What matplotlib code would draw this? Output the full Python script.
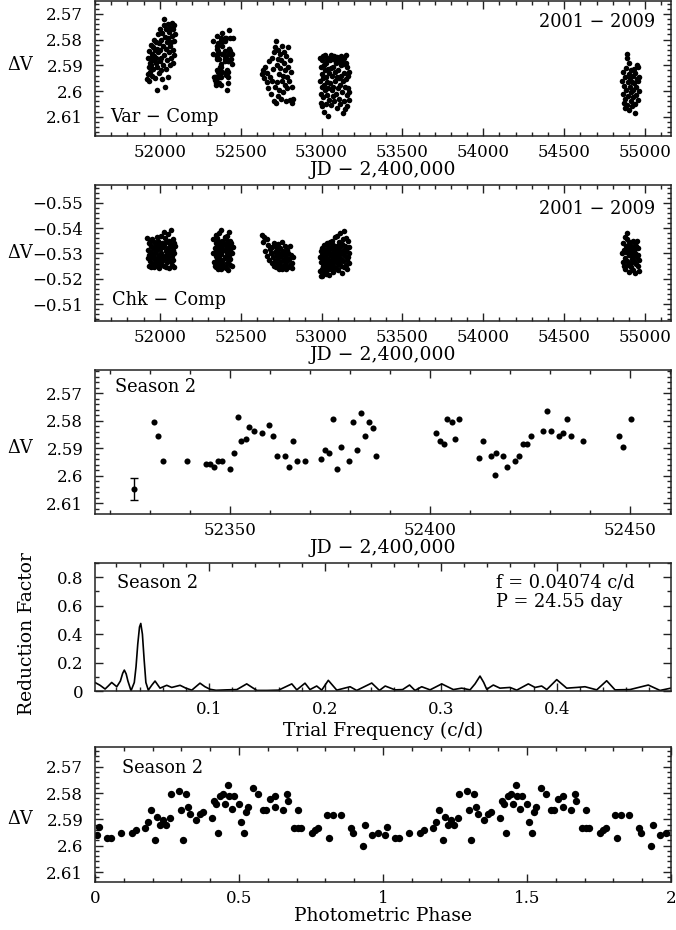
import matplotlib
matplotlib.use("Agg")
import matplotlib.pyplot as plt
from matplotlib.ticker import MultipleLocator, FuncFormatter
from matplotlib.transforms import blended_transform_factory
import numpy as np

plt.rcParams['font.family'] = ['DejaVu Serif']
FS = 12.0      # tick labels
FL = 13.5      # axis labels
FA = 12.8      # annotations

# ---------------- data ----------------
# Season 1 (2001)
s1_jd = [51922, 51925, 51928, 51931, 51934, 51936, 51939, 51941, 51944, 51946,
         51949, 51951, 51954, 51956, 51959, 51961, 51964, 51966, 51969, 51971,
         51974, 51976, 51979, 51981, 51984, 51986, 51989, 51991, 51994, 51996,
         51999, 52001, 52004, 52006, 52009, 52011, 52014, 52016, 52019, 52021,
         52024, 52026, 52029, 52031, 52034, 52036, 52039, 52041, 52044, 52046,
         52049, 52051, 52054, 52056, 52059, 52061, 52064, 52066, 52069, 52071,
         52074, 52076, 52079, 52081, 52084, 52086, 52089, 52091, 52094]
s1_var = [2.5955, 2.5870, 2.5935, 2.5905, 2.5960, 2.5845, 2.5890, 2.5925, 2.5870, 2.5820,
          2.5900, 2.5940, 2.5855, 2.5880, 2.5830, 2.5915, 2.5800, 2.5865, 2.5950, 2.5840,
          2.5890, 2.5810, 2.5870, 2.5995, 2.5835, 2.5905, 2.5780, 2.5850, 2.5930, 2.5815,
          2.5885, 2.5760, 2.5840, 2.5920, 2.5800, 2.5870, 2.5955, 2.5775, 2.5825, 2.5900,
          2.5745, 2.5720, 2.5860, 2.5985, 2.5790, 2.5835, 2.5915, 2.5760, 2.5810, 2.5880,
          2.5740, 2.5795, 2.5945, 2.5850, 2.5770, 2.5825, 2.5900, 2.5755, 2.5810, 2.5870,
          2.5785, 2.5735, 2.5840, 2.5890, 2.5760, 2.5745, 2.5805, 2.5860, 2.5780]
s1_chk = [-0.5362, -0.5280, -0.5315, -0.5250, -0.5340, -0.5295, -0.5268, -0.5352, -0.5305, -0.5245,
          -0.5330, -0.5285, -0.5358, -0.5260, -0.5320, -0.5290, -0.5248, -0.5345, -0.5300, -0.5272,
          -0.5335, -0.5255, -0.5310, -0.5365, -0.5282, -0.5325, -0.5262, -0.5348, -0.5295, -0.5243,
          -0.5338, -0.5276, -0.5318, -0.5370, -0.5258, -0.5302, -0.5342, -0.5268, -0.5325, -0.5290,
          -0.5385, -0.5252, -0.5332, -0.5280, -0.5360, -0.5310, -0.5246, -0.5345, -0.5298, -0.5265,
          -0.5375, -0.5320, -0.5285, -0.5350, -0.5242, -0.5305, -0.5338, -0.5270, -0.5328, -0.5394,
          -0.5290, -0.5255, -0.5355, -0.5312, -0.5275, -0.5340, -0.5248, -0.5300, -0.5330]

# Season 2 (2002) -- also shown in detail in panel 3
s2_jd = [52331.0, 52332.1, 52333.2, 52339.2, 52344.0, 52345.0, 52346.0, 52347.1, 52348.1, 52350.0,
         52351.0, 52352.0, 52352.8, 52354.0, 52354.8, 52356.0, 52357.9, 52359.8, 52360.8, 52361.8,
         52363.8, 52364.8, 52365.8, 52366.8, 52368.8, 52372.8, 52373.8, 52374.8, 52375.8, 52376.8,
         52377.8, 52379.7, 52380.7, 52381.7, 52382.7, 52383.7, 52384.7, 52385.7, 52386.6, 52401.5,
         52402.5, 52403.6, 52404.4, 52405.6, 52406.4, 52407.4, 52412.3, 52413.3, 52415.3, 52416.4,
         52416.6, 52418.3, 52419.3, 52421.3, 52422.3, 52423.3, 52424.3, 52425.3, 52428.3, 52429.3,
         52430.2, 52432.2, 52433.2, 52434.2, 52435.2, 52438.3, 52447.2, 52448.2, 52450.2]
s2_var = [2.5805, 2.5855, 2.5947, 2.5947, 2.5957, 2.5957, 2.5968, 2.5947, 2.5947, 2.5976,
          2.5918, 2.5785, 2.5875, 2.5867, 2.5824, 2.5836, 2.5844, 2.5815, 2.5855, 2.5927,
          2.5927, 2.5967, 2.5875, 2.5947, 2.5947, 2.5938, 2.5906, 2.5917, 2.5795, 2.5976,
          2.5896, 2.5946, 2.5805, 2.5906, 2.5773, 2.5855, 2.5805, 2.5825, 2.5927, 2.5844,
          2.5875, 2.5885, 2.5795, 2.5805, 2.5865, 2.5795, 2.5936, 2.5875, 2.5927, 2.5997,
          2.5917, 2.5927, 2.5967, 2.5946, 2.5927, 2.5885, 2.5885, 2.5855, 2.5836, 2.5764,
          2.5836, 2.5855, 2.5844, 2.5795, 2.5855, 2.5875, 2.5855, 2.5896, 2.5795]
s2_chk = [-0.5300, -0.5355, -0.5265, -0.5320, -0.5250, -0.5340, -0.5290, -0.5372, -0.5310, -0.5245,
          -0.5330, -0.5282, -0.5360, -0.5262, -0.5318, -0.5295, -0.5240, -0.5348, -0.5305, -0.5270,
          -0.5338, -0.5258, -0.5325, -0.5380, -0.5288, -0.5315, -0.5252, -0.5345, -0.5298, -0.5238,
          -0.5335, -0.5275, -0.5322, -0.5394, -0.5260, -0.5308, -0.5350, -0.5268, -0.5328, -0.5285,
          -0.5365, -0.5248, -0.5338, -0.5280, -0.5312, -0.5355, -0.5242, -0.5302, -0.5326, -0.5262,
          -0.5370, -0.5318, -0.5290, -0.5345, -0.5236, -0.5308, -0.5335, -0.5272, -0.5322, -0.5385,
          -0.5295, -0.5255, -0.5350, -0.5315, -0.5278, -0.5342, -0.5250, -0.5300, -0.5325]

# Season 3 (2003)
s3_jd = [52632, 52638, 52645, 52652, 52660, 52666, 52672, 52678, 52683, 52688,
         52692, 52696, 52700, 52704, 52707, 52710, 52713, 52716, 52719, 52722,
         52725, 52728, 52731, 52734, 52737, 52740, 52743, 52746, 52749, 52752,
         52755, 52758, 52761, 52764, 52767, 52770, 52773, 52776, 52779, 52782,
         52785, 52788, 52791, 52795, 52799, 52803, 52807, 52811, 52815, 52819, 52822]
s3_var = [2.5935, 2.5920, 2.5950, 2.5905, 2.5965, 2.5930, 2.5990, 2.5885, 2.5945, 2.6010,
          2.5870, 2.5960, 2.5915, 2.6040, 2.5850, 2.5985, 2.5830, 2.6045, 2.5805, 2.5900,
          2.5965, 2.5840, 2.6020, 2.5875, 2.5935, 2.5995, 2.5855, 2.5910, 2.6030, 2.5880,
          2.5960, 2.5825, 2.5940, 2.6005, 2.5890, 2.5850, 2.5975, 2.5920, 2.6040, 2.5865,
          2.5945, 2.5990, 2.5830, 2.5905, 2.5960, 2.6035, 2.5880, 2.5925, 2.6045, 2.5985, 2.6030]
s3_chk = [-0.5372, -0.5345, -0.5365, -0.5310, -0.5355, -0.5290, -0.5335, -0.5275, -0.5318, -0.5300,
          -0.5262, -0.5325, -0.5285, -0.5340, -0.5250, -0.5305, -0.5270, -0.5330, -0.5245, -0.5295,
          -0.5318, -0.5258, -0.5280, -0.5338, -0.5240, -0.5300, -0.5265, -0.5322, -0.5252, -0.5288,
          -0.5345, -0.5238, -0.5310, -0.5272, -0.5298, -0.5248, -0.5328, -0.5260, -0.5285, -0.5240,
          -0.5315, -0.5268, -0.5302, -0.5245, -0.5278, -0.5330, -0.5255, -0.5292, -0.5262, -0.5242, -0.5285]

# Season 4 (2004)
s4_jd = [52991, 52993, 52995, 52998, 52999, 53001, 53003, 53004, 53006, 53008,
         53009, 53011, 53013, 53016, 53017, 53019, 53021, 53024, 53026, 53027,
         53030, 53033, 53034, 53036, 53039, 53041, 53043, 53046, 53048, 53049,
         53052, 53054, 53056, 53059, 53061, 53063, 53066, 53068, 53069, 53072,
         53074, 53076, 53079, 53081, 53083, 53086, 53088, 53090, 53093, 53095,
         53097, 53100, 53102, 53104, 53107, 53109, 53111, 53114, 53116, 53118,
         53121, 53123, 53125, 53128, 53130, 53132, 53135, 53137, 53139, 53142,
         53144, 53146, 53149, 53151, 53153, 53156, 53158, 53160, 53163, 53165,
         53167, 53170, 53172]
s4_var = [2.5870, 2.5960, 2.6010, 2.5905, 2.6045, 2.5880, 2.5985, 2.5935, 2.6060, 2.5865,
          2.5950, 2.6025, 2.5900, 2.5975, 2.6080, 2.5920, 2.5860, 2.5995, 2.6050, 2.5890,
          2.5945, 2.6015, 2.5875, 2.5965, 2.6098, 2.5915, 2.5990, 2.5870, 2.6035, 2.5930,
          2.5880, 2.5970, 2.6055, 2.5910, 2.5860, 2.5995, 2.5940, 2.6020, 2.5870, 2.5905,
          2.5985, 2.5862, 2.6040, 2.5925, 2.5878, 2.5960, 2.6010, 2.5890, 2.5945, 2.6065,
          2.5868, 2.5920, 2.5990, 2.5875, 2.6030, 2.5950, 2.5885, 2.5975, 2.6050, 2.5900,
          2.5865, 2.5940, 2.6005, 2.5880, 2.6085, 2.5960, 2.5895, 2.6040, 2.5872, 2.5930,
          2.5985, 2.6070, 2.5890, 2.5860, 2.5955, 2.6015, 2.5905, 2.6060, 2.5940, 2.5990,
          2.6035, 2.5925, 2.6005]
s4_chk = [-0.5285, -0.5230, -0.5310, -0.5212, -0.5265, -0.5295, -0.5240, -0.5320, -0.5209, -0.5275,
          -0.5250, -0.5305, -0.5225, -0.5288, -0.5335, -0.5245, -0.5270, -0.5315, -0.5220, -0.5298,
          -0.5260, -0.5340, -0.5235, -0.5280, -0.5312, -0.5250, -0.5328, -0.5268, -0.5215, -0.5302,
          -0.5345, -0.5255, -0.5290, -0.5322, -0.5238, -0.5275, -0.5350, -0.5262, -0.5305, -0.5228,
          -0.5335, -0.5285, -0.5248, -0.5318, -0.5365, -0.5270, -0.5300, -0.5242, -0.5330, -0.5282,
          -0.5370, -0.5258, -0.5312, -0.5235, -0.5345, -0.5292, -0.5265, -0.5325, -0.5380, -0.5250,
          -0.5305, -0.5278, -0.5338, -0.5222, -0.5296, -0.5358, -0.5268, -0.5315, -0.5245, -0.5387,
          -0.5288, -0.5330, -0.5255, -0.5310, -0.5362, -0.5272, -0.5238, -0.5320, -0.5285, -0.5348,
          -0.5262, -0.5300, -0.5325]

# Season 5 (2009)
s5_jd = [54860, 54863, 54866, 54868, 54871, 54873, 54876, 54878, 54881, 54883,
         54886, 54888, 54890, 54893, 54895, 54898, 54900, 54903, 54905, 54908,
         54910, 54913, 54915, 54918, 54920, 54923, 54925, 54928, 54930, 54933,
         54935, 54938, 54940, 54943, 54945, 54948, 54950, 54953, 54955, 54958,
         54960, 54963]
s5_var = [2.5960, 2.6010, 2.5925, 2.6045, 2.5980, 2.6065, 2.5945, 2.6030, 2.5995, 2.5910,
          2.5856, 2.5870, 2.6055, 2.5965, 2.6020, 2.5935, 2.5890, 2.6075, 2.5985, 2.5950,
          2.6040, 2.5920, 2.6005, 2.5965, 2.6060, 2.5940, 2.5995, 2.6025, 2.5915, 2.5970,
          2.6050, 2.6087, 2.5930, 2.5985, 2.6015, 2.5955, 2.5900, 2.5905, 2.6035, 2.5960,
          2.6000, 2.5945]
s5_chk = [-0.5300, -0.5265, -0.5340, -0.5250, -0.5315, -0.5282, -0.5365, -0.5240, -0.5305, -0.5330,
          -0.5382, -0.5358, -0.5270, -0.5318, -0.5255, -0.5345, -0.5292, -0.5228, -0.5310, -0.5335,
          -0.5262, -0.5298, -0.5245, -0.5325, -0.5278, -0.5350, -0.5288, -0.5236, -0.5312, -0.5268,
          -0.5340, -0.5222, -0.5302, -0.5258, -0.5328, -0.5285, -0.5348, -0.5295, -0.5250, -0.5320,
          -0.5275, -0.5232]

# representative error bar in panel 3
err_jd = [52326.1]
err_var = [2.6048]
err_size = [0.0041]

# periodogram (season 2)
pg_freq = [0.002, 0.006, 0.0103, 0.013, 0.016, 0.0204, 0.0235, 0.0255, 0.0269, 0.0285,
           0.030, 0.0327, 0.0355, 0.037, 0.0385, 0.040, 0.0411, 0.0425, 0.044, 0.0455,
           0.0476, 0.0505, 0.0534, 0.0577, 0.0635, 0.0678, 0.075, 0.080, 0.0851, 0.0922,
           0.0965, 0.1009, 0.106, 0.115, 0.124, 0.1325, 0.1412, 0.150, 0.160, 0.1714,
           0.1757, 0.1828, 0.1871, 0.1929, 0.1972, 0.2029, 0.2102, 0.2217, 0.2274, 0.2404,
           0.247, 0.252, 0.2605, 0.267, 0.273, 0.2777, 0.2835, 0.2907, 0.3008, 0.3108,
           0.318, 0.3252, 0.3295, 0.3338, 0.3370, 0.3396, 0.3453, 0.351, 0.3597, 0.3655,
           0.3755, 0.3813, 0.387, 0.3914, 0.400, 0.4086, 0.4173, 0.4244, 0.4345, 0.4431,
           0.4503, 0.4632, 0.479, 0.4891, 0.4985]
pg_power = [0.058, 0.040, 0.014, 0.035, 0.060, 0.030, 0.070, 0.125, 0.147, 0.120,
            0.070, 0.002, 0.060, 0.170, 0.330, 0.450, 0.475, 0.400, 0.220, 0.060,
            0.006, 0.040, 0.070, 0.020, 0.040, 0.025, 0.040, 0.020, 0.006, 0.055,
            0.030, 0.012, 0.005, 0.008, 0.010, 0.050, 0.004, 0.004, 0.006, 0.050,
            0.008, 0.055, 0.010, 0.035, 0.006, 0.075, 0.006, 0.030, 0.004, 0.056,
            0.004, 0.035, 0.008, 0.010, 0.042, 0.004, 0.030, 0.008, 0.050, 0.010,
            0.020, 0.008, 0.050, 0.105, 0.060, 0.012, 0.042, 0.020, 0.025, 0.006,
            0.050, 0.025, 0.035, 0.010, 0.080, 0.020, 0.025, 0.030, 0.008, 0.072,
            0.008, 0.010, 0.042, 0.004, 0.020]

# phased light curve (season 2), phase 0-1 (plotted twice)
ph_phase = [0.006, 0.015, 0.043, 0.055, 0.089, 0.130, 0.144, 0.175, 0.185, 0.193,
            0.208, 0.217, 0.225, 0.236, 0.248, 0.260, 0.265, 0.291, 0.300, 0.306,
            0.315, 0.323, 0.331, 0.352, 0.363, 0.375, 0.405, 0.413, 0.421, 0.427,
            0.435, 0.446, 0.450, 0.461, 0.467, 0.476, 0.484, 0.499, 0.507, 0.517,
            0.525, 0.531, 0.548, 0.565, 0.582, 0.594, 0.609, 0.625, 0.625, 0.652,
            0.666, 0.669, 0.692, 0.706, 0.706, 0.715, 0.755, 0.765, 0.776, 0.805,
            0.813, 0.825, 0.854, 0.888, 0.896, 0.929, 0.937, 0.963, 0.981]
ph_var = [2.5960, 2.5929, 2.5970, 2.5970, 2.5951, 2.5951, 2.5941, 2.5931, 2.5910, 2.5863,
          2.5979, 2.5890, 2.5922, 2.5901, 2.5922, 2.5893, 2.5802, 2.5791, 2.5863, 2.5979,
          2.5802, 2.5852, 2.5880, 2.5901, 2.5880, 2.5871, 2.5893, 2.5831, 2.5842, 2.5951,
          2.5812, 2.5802, 2.5842, 2.5770, 2.5812, 2.5861, 2.5812, 2.5842, 2.5910, 2.5951,
          2.5871, 2.5852, 2.5780, 2.5802, 2.5863, 2.5863, 2.5821, 2.5812, 2.5852, 2.5863,
          2.5802, 2.5831, 2.5931, 2.5931, 2.5863, 2.5931, 2.5951, 2.5941, 2.5931, 2.5882,
          2.5970, 2.5882, 2.5882, 2.5931, 2.5951, 2.6001, 2.5922, 2.5960, 2.5951]

# ---------------- figure ----------------
fig = plt.figure(figsize=(6.76, 9.30), dpi=100)
L, W = 95 / 676, 576 / 676


def axes_px(top, bottom):
    return fig.add_axes([L, (930 - bottom) / 930, W, (bottom - top) / 930])


def fmt(v, pos):
    return ('%g' % v).replace('-', '\u2212')


def style(ax, xmaj, xmin, ymaj, ymin, xpad=5.5):
    ax.xaxis.set_major_locator(MultipleLocator(xmaj))
    ax.xaxis.set_minor_locator(MultipleLocator(xmin))
    ax.yaxis.set_major_locator(MultipleLocator(ymaj))
    ax.yaxis.set_minor_locator(MultipleLocator(ymin))
    ax.xaxis.set_major_formatter(FuncFormatter(fmt))
    ax.yaxis.set_major_formatter(FuncFormatter(fmt))
    ax.tick_params(which='both', direction='in', top=True, right=True,
                   labelsize=FS, width=1.0, color='#222222')
    ax.tick_params(which='major', length=5.8)
    ax.tick_params(which='minor', length=2.9)
    ax.tick_params(axis='y', pad=8.5)
    ax.tick_params(axis='x', pad=xpad)
    for s in ax.spines.values():
        s.set_linewidth(1.1)
        s.set_color('#222222')


def dv_label(ax, yval):
    tr = blended_transform_factory(ax.transAxes, ax.transData)
    ax.text(-0.13, yval, '\u0394V', transform=tr, ha='center', va='center',
            fontsize=FA)


msk = dict(ls='none', marker='o', color='black', mec='none')

# Panel 1: Var - Comp
ax1 = axes_px(1, 136)
for jd, v in [(s1_jd, s1_var), (s2_jd, s2_var), (s3_jd, s3_var),
              (s4_jd, s4_var), (s5_jd, s5_var)]:
    ax1.plot(jd, v, ms=4.0, **msk)
ax1.set_xlim(51600, 55160)
ax1.set_ylim(2.6175, 2.565)
style(ax1, 500, 100, 0.01, 0.002)
ax1.set_xlabel('JD \u2212 2,400,000', fontsize=FL, labelpad=0)
dv_label(ax1, 2.59)
ax1.text(0.972, 0.844, '2001 \u2212 2009', transform=ax1.transAxes,
         ha='right', va='center', fontsize=FA)
ax1.text(0.026, 0.141, 'Var \u2212 Comp', transform=ax1.transAxes,
         ha='left', va='center', fontsize=FA)

# Panel 2: Chk - Comp
ax2 = axes_px(185, 321)
for jd, v in [(s1_jd, s1_chk), (s2_jd, s2_chk), (s3_jd, s3_chk),
              (s4_jd, s4_chk), (s5_jd, s5_chk)]:
    ax2.plot(jd, v, ms=4.0, **msk)
ax2.set_xlim(51600, 55160)
ax2.set_ylim(-0.5033, -0.557)
style(ax2, 500, 100, 0.01, 0.002)
ax2.set_xlabel('JD \u2212 2,400,000', fontsize=FL, labelpad=0)
dv_label(ax2, -0.53)
ax2.text(0.972, 0.824, '2001 \u2212 2009', transform=ax2.transAxes,
         ha='right', va='center', fontsize=FA)
ax2.text(0.0295, 0.154, 'Chk \u2212 Comp', transform=ax2.transAxes,
         ha='left', va='center', fontsize=FA)

# Panel 3: Season 2 light curve
ax3 = axes_px(370, 514)
ax3.plot(s2_jd, s2_var, ms=4.4, **msk)
ax3.errorbar(err_jd, err_var, yerr=err_size, fmt='o', color='black', ms=4.4,
             mec='none', capsize=3.2, elinewidth=1.0, capthick=1.0)
ax3.set_xlim(52316.25, 52460.3)
ax3.set_ylim(2.6139, 2.5615)
style(ax3, 50, 10, 0.01, 0.002)
ax3.set_xlabel('JD \u2212 2,400,000', fontsize=FL, labelpad=0)
dv_label(ax3, 2.59)
ax3.text(0.035, 0.882, 'Season 2', transform=ax3.transAxes,
         ha='left', va='center', fontsize=FA)

# Panel 4: periodogram
ax4 = axes_px(563, 691)
ax4.plot(pg_freq, pg_power, color='black', lw=1.2, solid_joinstyle='round')
ax4.set_xlim(0.0016, 0.4986)
ax4.set_ylim(0, 0.9)
style(ax4, 0.1, 0.02, 0.2, 0.1, xpad=7)
ax4.set_xlabel('Trial Frequency (c/d)', fontsize=FL, labelpad=3)
ax4.set_ylabel('Reduction Factor', fontsize=FL)
ax4.yaxis.set_label_coords(-0.103, 0.45)
ax4.text(0.038, 0.844, 'Season 2', transform=ax4.transAxes,
         ha='left', va='center', fontsize=FA)
ax4.text(0.696, 0.844, 'f = 0.04074 c/d', transform=ax4.transAxes,
         ha='left', va='center', fontsize=FA)
ax4.text(0.696, 0.695, 'P = 24.55 day', transform=ax4.transAxes,
         ha='left', va='center', fontsize=FA)

# Panel 5: phased light curve
ax5 = axes_px(747, 882)
ph = np.asarray(ph_phase)
ax5.plot(ph, ph_var, ms=5.3, **msk)
ax5.plot(ph + 1.0, ph_var, ms=5.3, **msk)
ax5.set_xlim(0, 2)
ax5.set_ylim(2.6138, 2.5625)
style(ax5, 0.5, 0.1, 0.01, 0.002)
ax5.set_xlabel('Photometric Phase', fontsize=FL, labelpad=0)
dv_label(ax5, 2.59)
ax5.text(0.047, 0.844, 'Season 2', transform=ax5.transAxes,
         ha='left', va='center', fontsize=FA)

fig.savefig('out.png', dpi=100)
